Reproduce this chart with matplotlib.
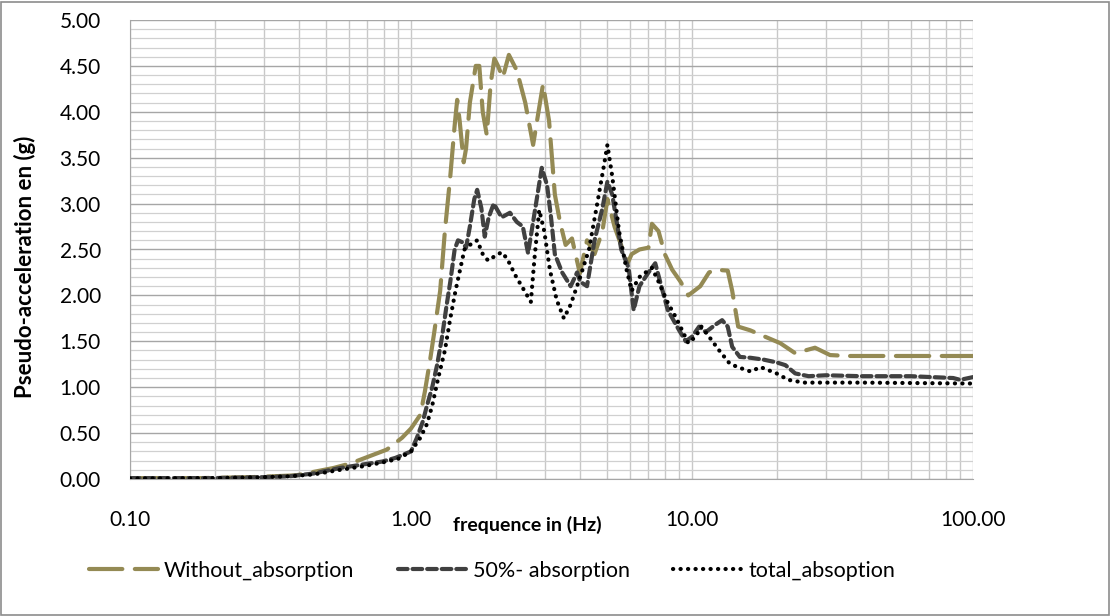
import matplotlib
matplotlib.use("Agg")
import matplotlib.pyplot as plt
from matplotlib.ticker import FixedLocator, FixedFormatter, MultipleLocator, LogLocator, NullFormatter
from matplotlib.patches import Rectangle

# ---- data ----
freq_without = [0.10, 0.18, 0.27, 0.39, 0.53, 0.61, 0.82, 0.93, 1.00, 1.08, 1.12, 1.17, 1.21,
                1.27, 1.32, 1.38, 1.43, 1.46, 1.49, 1.54, 1.57, 1.62, 1.70, 1.75, 1.80, 1.86,
                1.92, 1.98, 2.04, 2.12, 2.23, 2.38, 2.55, 2.72, 2.95, 3.10, 3.25, 3.39, 3.55,
                3.74, 3.99, 4.23, 4.50, 4.80, 5.00, 5.30, 5.90, 6.10, 6.50, 7.00, 7.20, 7.60,
                8.00, 8.50, 9.10, 9.70, 10.7, 11.5, 12.1, 13.4, 13.9, 14.6, 16.1, 18.2, 20.6,
                23.3, 27.4, 31.0, 36.0, 55.0, 100.0]
acc_without = [0.01, 0.01, 0.02, 0.04, 0.12, 0.17, 0.32, 0.45, 0.55, 0.70, 0.95, 1.30, 1.60,
               2.05, 2.70, 3.30, 3.85, 4.13, 3.90, 3.45, 3.60, 4.10, 4.50, 4.50, 4.00, 3.75,
               4.30, 4.58, 4.50, 4.37, 4.62, 4.45, 4.10, 3.64, 4.30, 3.90, 3.10, 2.80, 2.55,
               2.62, 2.24, 2.60, 2.45, 2.70, 3.05, 2.75, 2.35, 2.45, 2.50, 2.52, 2.78, 2.70,
               2.45, 2.28, 2.15, 2.00, 2.10, 2.25, 2.28, 2.27, 2.05, 1.66, 1.62, 1.55, 1.48,
               1.37, 1.43, 1.35, 1.34, 1.34, 1.34]

freq_50 = [0.10, 0.20, 0.30, 0.37, 0.45, 0.56, 0.68, 0.79, 0.88, 1.00, 1.05, 1.10, 1.14, 1.19,
           1.24, 1.29, 1.34, 1.38, 1.43, 1.47, 1.52, 1.57, 1.62, 1.68, 1.72, 1.78, 1.83, 1.89,
           1.97, 2.10, 2.25, 2.38, 2.50, 2.61, 2.72, 2.92, 3.05, 3.15, 3.25, 3.45, 3.70, 3.90,
           4.00, 4.23, 4.50, 4.80, 5.00, 5.20, 5.60, 5.95, 6.20, 6.50, 7.00, 7.40, 7.70, 8.20,
           9.00, 9.50, 10.0, 10.6, 11.2, 12.1, 12.8, 13.4, 13.9, 14.8, 16.2, 18.0, 20.0, 21.5,
           23.3, 26.0, 30.0, 40.0, 60.0, 85.0, 90.0, 100.0]
acc_50 = [0.01, 0.01, 0.02, 0.03, 0.06, 0.12, 0.16, 0.19, 0.23, 0.30, 0.45, 0.62, 0.80, 1.00,
          1.25, 1.55, 1.90, 2.15, 2.50, 2.60, 2.58, 2.52, 2.75, 3.05, 3.15, 2.95, 2.64, 2.85,
          3.00, 2.85, 2.90, 2.80, 2.75, 2.46, 2.80, 3.39, 3.20, 2.85, 2.45, 2.25, 2.10, 2.25,
          2.15, 2.10, 2.60, 2.95, 3.24, 3.10, 2.50, 2.30, 1.84, 2.10, 2.25, 2.35, 2.15, 1.84,
          1.62, 1.50, 1.55, 1.66, 1.60, 1.68, 1.73, 1.66, 1.44, 1.33, 1.32, 1.30, 1.27, 1.24,
          1.15, 1.12, 1.13, 1.12, 1.12, 1.10, 1.08, 1.11]

freq_total = [0.10, 0.20, 0.30, 0.37, 0.45, 0.56, 0.68, 0.79, 0.90, 1.00, 1.08, 1.14, 1.19,
              1.25, 1.32, 1.38, 1.44, 1.50, 1.55, 1.62, 1.72, 1.80, 1.88, 1.97, 2.10, 2.20,
              2.35, 2.50, 2.67, 2.75, 2.86, 2.98, 3.12, 3.30, 3.50, 3.70, 4.00, 4.30, 4.60,
              4.85, 5.00, 5.20, 5.50, 5.85, 6.10, 6.50, 7.20, 7.60, 8.20, 8.80, 9.70, 10.3,
              10.8, 11.5, 12.5, 13.6, 14.5, 16.2, 17.5, 20.0, 22.0, 25.0, 40.0, 100.0]
acc_total = [0.005, 0.01, 0.02, 0.03, 0.05, 0.10, 0.14, 0.18, 0.22, 0.30, 0.45, 0.60, 0.80,
             1.10, 1.40, 1.75, 2.05, 2.30, 2.50, 2.55, 2.60, 2.45, 2.38, 2.42, 2.47, 2.40,
             2.22, 2.08, 1.93, 2.40, 2.93, 2.70, 2.28, 1.95, 1.75, 1.90, 2.20, 2.50, 3.00,
             3.40, 3.64, 3.30, 2.70, 2.28, 2.05, 2.20, 2.30, 2.15, 1.92, 1.75, 1.48, 1.55,
             1.66, 1.55, 1.40, 1.26, 1.22, 1.17, 1.22, 1.15, 1.08, 1.05, 1.05, 1.04]

series_labels = ["Without_absorption", "50%- absorption", "total_absoption"]
x_tick_values = [0.1, 1, 10, 100]
x_tick_labels = ["0.10", "1.00", "10.00", "100.00"]

# ---- figure ----
W, H = 1111, 616
fig = plt.figure(figsize=(W / 100, H / 100), dpi=100)
fig.patch.set_facecolor("white")
ax = fig.add_axes([130 / W, 1 - 479 / H, (973 - 130) / W, (479 - 20) / H])

font = ["Lato", "DejaVu Sans"]

l1, = ax.plot(freq_without, acc_without, color="#948A54", lw=3.0,
              linestyle=(0, (8, 3)), dash_capstyle="round", solid_joinstyle="round",
              label=series_labels[0], zorder=3)
l2, = ax.plot(freq_50, acc_50, color="#404040", lw=3.0,
              linestyle=(0, (2.3, 1.2)), dash_capstyle="round",
              label=series_labels[1], zorder=4)
l3, = ax.plot(freq_total, acc_total, color="#000000", lw=3.0,
              linestyle=(0, (0.05, 1.75)), dash_capstyle="round",
              label=series_labels[2], zorder=5)

ax.set_xscale("log")
ax.set_xlim(0.1, 100)
ax.set_ylim(0, 5)

ax.yaxis.set_major_locator(MultipleLocator(0.5))
ax.yaxis.set_minor_locator(MultipleLocator(0.1))
ax.yaxis.set_major_formatter(matplotlib.ticker.FormatStrFormatter("%.2f"))
ax.xaxis.set_major_locator(FixedLocator(x_tick_values))
ax.xaxis.set_major_formatter(FixedFormatter(x_tick_labels))
ax.xaxis.set_minor_locator(LogLocator(base=10, subs=range(2, 10)))
ax.xaxis.set_minor_formatter(NullFormatter())

ax.grid(True, which="major", axis="y", color="#A6A6A6", lw=1.0, zorder=0)
ax.grid(True, which="minor", axis="y", color="#D0D0D0", lw=0.9, zorder=0)
ax.grid(True, which="both", axis="x", color="#C8C8C8", lw=1.0, zorder=0)
ax.set_axisbelow(True)

ax.tick_params(axis="both", which="both", length=0)
ax.tick_params(axis="y", pad=21, labelsize=15, labelcolor="#000000")
ax.tick_params(axis="x", pad=22, labelsize=15, labelcolor="#000000")
for lab in ax.get_xticklabels() + ax.get_yticklabels():
    lab.set_family(font)

for side in ["top", "right"]:
    ax.spines[side].set_visible(False)
ax.spines["left"].set_color("#A6A6A6")
ax.spines["bottom"].set_color("#A6A6A6")

fig.text(25 / W, 1 - 267 / H, "Pseudo-acceleration en (g)", rotation=90, ha="center",
         va="center", fontsize=16, fontweight="bold", family=font)
fig.text(527 / W, 1 - 525 / H, "frequence in (Hz)", ha="center", va="center",
         fontsize=14, fontweight="bold", family=font)

leg = fig.legend(handles=[l1, l2, l3], labels=series_labels, loc="center",
                 bbox_to_anchor=(492 / W, 1 - 571 / H), ncol=3, frameon=False,
                 handlelength=3.2, handletextpad=0.3, columnspacing=2.0,
                 prop={"family": font, "size": 15.5})

fig.patches.append(Rectangle((1 / W, 1 / H), 1 - 3 / W, 1 - 3 / H, transform=fig.transFigure,
                             fill=False, edgecolor="#8C8C8C", lw=1.2))

fig.savefig("out.png", dpi=100, facecolor="white")
